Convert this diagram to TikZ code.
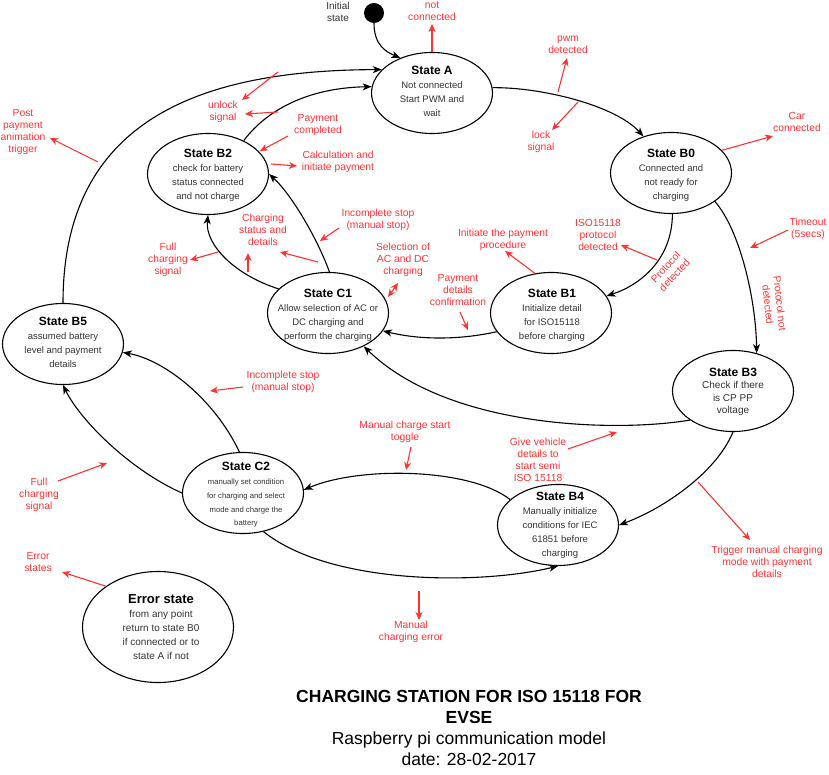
\documentclass[tikz,border=0pt]{standalone}
\usepackage{fontspec}
\setmainfont{Liberation Sans}
\usetikzlibrary{shapes.geometric,arrows.meta}
\definecolor{labred}{HTML}{FF3333}
\definecolor{bodyc}{HTML}{333333}
\newcommand\sttl[1]{{\fontsize{12}{14}\selectfont\bfseries\color{black}#1}}
\begin{document}
\begin{tikzpicture}[x=1pt,y=-1pt,
  st/.style={draw, ellipse, line width=1.1pt, minimum width=121pt, minimum height=81pt, inner sep=0pt},
  stt/.style={align=center, text=bodyc, inner sep=0pt, font=\fontsize{9.5}{14}\selectfont},
  lab/.style={align=center, text=labred, inner sep=0pt, font=\fontsize{10.3}{12}\selectfont},
  tr/.style={draw, line width=1.1pt, -{Stealth[length=9pt,width=7pt,inset=2.5pt]}},
  rarr/.style={draw=labred, line width=1.1pt, -{Stealth[length=8pt,width=7pt,inset=2.5pt]}},
  rdbl/.style={draw=labred, line width=1.1pt, {Stealth[length=8pt,width=7pt,inset=2.5pt]}-{Stealth[length=8pt,width=7pt,inset=2.5pt]}}
]
\useasboundingbox (0,0) rectangle (829,775);
\fill[white] (0,0) rectangle (829,775);

% ---------- states ----------
\node[fill, circle, minimum size=20pt, inner sep=0pt] (init) at (374,13) {};
\node[align=center, text=bodyc, inner sep=0pt, font=\fontsize{10}{12}\selectfont] (initt) at (338,12) {Initial\\state};

\node[st] (A) at (432,93) {};
\node[stt] (At) at (432,91) {\sttl{State A}\\Not connected\\Start PWM and\\wait};

\node[st] (B0) at (671,173) {};
\node[stt] (B0t) at (671,175) {\sttl{State B0}\\Connected and\\not ready for\\charging};

\node[st] (B2) at (208,174) {};
\node[stt] (B2t) at (208,175) {\sttl{State B2}\\check for battery\\status connected\\and not charge};

\node[st] (C1) at (328,313) {};
\node[stt] (C1t) at (328,315) {\sttl{State C1}\\Allow selection of AC or\\DC charging and\\perform the charging};

\node[st] (B1) at (551,313) {};
\node[stt] (B1t) at (552,315) {\sttl{State B1}\\Initialize detail\\for ISO15118\\before charging};

\node[st] (B3) at (733,391) {};
\node[stt, font=\fontsize{10}{12.5}\selectfont] (B3t) at (733,392) {\sttl{State B3}\\Check if there\\is CP PP\\voltage};

\node[st] (B5) at (63,344) {};
\node[stt] (B5t) at (63,342) {\sttl{State B5}\\assumed battery\\level and payment\\details};

\node[st] (C2) at (243,493) {};
\node[stt, font=\fontsize{7.7}{13.7}\selectfont] (C2t) at (246,495) {\sttl{State C2}\\manually set condition\\for charging and select\\mode and charge the\\battery};

\node[st] (B4) at (558,525) {};
\node[stt] (B4t) at (560,525) {\sttl{State B4}\\Manually initialize\\conditions for IEC\\61851 before\\charging};

\node[st, minimum width=151pt, minimum height=111pt] (Err) at (158,627) {};
\node[stt, font=\fontsize{10}{14}\selectfont] (Errt) at (161,627) {{\fontsize{13}{14}\selectfont\bfseries\color{black}Error state}\\from any point\\return to state B0\\if connected or to\\state A if not};

% ---------- transitions ----------
\draw[tr] (init) .. controls (374,45) and (386,52) .. (A.132);
\draw[tr] (B2.43) .. controls (262,116) and (300,88) .. (A.174);
\draw[tr] (B5.90) .. controls (63,120) and (200,70) .. (A.155);
\draw[tr] (A.5) .. controls (540,87) and (615,105) .. (B0.127);
\draw[tr] (B0.272) .. controls (672,260) and (640,285) .. (B1.17);
\draw[tr] (B0.327) .. controls (740,230) and (756,300) .. (B3.58);
\draw[tr] (C1.88) .. controls (318,240) and (292,195) .. (B2.0);
\draw[tr] (C1.154) .. controls (235,275) and (205,245) .. (B2.270);
\draw[tr] (B1.199) .. controls (460,340) and (420,340) .. (C1.342);
\draw[tr] (B3.214) .. controls (620,432) and (450,430) .. (C1.317);
\draw[tr] (B3.270) .. controls (715,475) and (660,510) .. (B4.0);
\draw[tr] (B4.152) .. controls (470,468) and (360,466) .. (C2.3);
\draw[tr] (C2.298) .. controls (330,585) and (480,585) .. (B4.270);
\draw[tr] (C2.95) .. controls (215,400) and (165,360) .. (B5.352);
\draw[tr] (C2.180) .. controls (130,470) and (80,420) .. (B5.270);

% ---------- red labels ----------
\node[lab] (lnc) at (432,11) {not\\connected};
\node[lab] (lpwm) at (568,45) {pwm\\detected};
\node[lab] (llock) at (541,142) {lock\\signal};
\node[lab] (lcar) at (797,122) {Car\\connected};
\node[lab] (liso) at (598,235) {ISO15118\\protocol\\detected};
\node[lab, rotate=47] (lpd) at (670,271) {Protocol\\detected};
\node[lab] (ltime) at (808,229) {Timeout\\(5secs)};
\node[lab, rotate=-84] (lpnd) at (774,304) {Protocol not\\detected};
\node[lab] (linit) at (503,240) {Initiate the payment\\procedure};
\node[lab] (lpdc) at (458,290) {Payment\\details\\confirmation};
\node[lab] (lsel) at (403,260) {Selection of\\AC and DC\\charging};
\node[lab] (linc1) at (378,220) {Incomplete stop\\(manual stop)};
\node[lab] (lchs) at (263,230) {Charging\\status and\\details};
\node[lab] (lfull1) at (168,260) {Full\\charging\\signal};
\node[lab] (lpc) at (318,125) {Payment\\completed};
\node[lab] (lcalc) at (338,162) {Calculation and\\initiate payment};
\node[lab] (lunl) at (223,112) {unlock\\signal};
\node[lab] (lpost) at (23,132) {Post\\payment\\animation\\trigger};
\node[lab] (linc2) at (283,382) {Incomplete stop\\(manual stop)};
\node[lab] (lfull2) at (39,495) {Full\\charging\\signal};
\node[lab] (lman) at (405,432) {Manual charge start\\toggle};
\node[lab] (lgive) at (538,460) {Give vehicle\\details to\\start semi\\ISO 15118};
\node[lab] (ltrig) at (767,562) {Trigger manual charging\\mode with payment\\details};
\node[lab] (lmerr) at (411,632) {Manual\\charging error};
\node[lab] (lerr) at (38,562) {Error\\states};

% ---------- red pointer arrows ----------
\coordinate (pncE) at (432,24);
\coordinate (ppwmS) at (558,92);   \coordinate (ppwmE) at (567,58);
\coordinate (plockS) at (578,102); \coordinate (plockE) at (552,130);
\coordinate (pcarE) at (773,136);
\coordinate (pisoS) at (657,260);  \coordinate (pisoE) at (621,245);
\coordinate (ptimS) at (788,230);  \coordinate (ptimE) at (750,248);
\coordinate (pinitE) at (505,251);
\coordinate (ppdcS) at (460,312);  \coordinate (ppdcE) at (468,330);
\coordinate (pselS) at (388,297);  \coordinate (pselE) at (398,283);
\coordinate (pinc1S) at (339,228); \coordinate (pinc1E) at (320,241);
\coordinate (pch1S) at (248,272);  \coordinate (pch1E) at (248,253);
\coordinate (pch2S) at (318,262);  \coordinate (pch2E) at (280,252);
\coordinate (pful1S) at (218,252); \coordinate (pful1E) at (190,260);
\coordinate (ppcS) at (288,136);   \coordinate (ppcE) at (260,151);
\coordinate (pcalS) at (271,164);  \coordinate (pcalE) at (297,166);
\coordinate (pun1S) at (278,72);   \coordinate (pun1E) at (242,100);
\coordinate (pun2S) at (278,112);  \coordinate (pun2E) at (245,114);
\coordinate (ppostS) at (98,162);  \coordinate (ppostE) at (50,138);
\coordinate (pinc2S) at (243,387); \coordinate (pinc2E) at (210,391);
\coordinate (pful2S) at (58,481);  \coordinate (pful2E) at (107,463);
\coordinate (pmanS) at (411,447);  \coordinate (pmanE) at (406,470);
\coordinate (pgivS) at (568,449);  \coordinate (pgivE) at (617,432);
\coordinate (ptrgS) at (698,482);  \coordinate (ptrgE) at (750,540);
\coordinate (pmerS) at (419,591);  \coordinate (pmerE) at (419,620);
\coordinate (perrE) at (62,572);

\draw[rarr] (A.north) -- (pncE);
\draw[rarr] (ppwmS) -- (ppwmE);
\draw[rarr] (plockS) -- (plockE);
\draw[rarr] (B0.24) -- (pcarE);
\draw[rarr] (pisoS) -- (pisoE);
\draw[rarr] (ptimS) -- (ptimE);
\draw[rarr] (B1.112) -- (pinitE);
\draw[rarr] (ppdcS) -- (ppdcE);
\draw[rdbl] (pselS) -- (pselE);
\draw[rarr] (pinc1S) -- (pinc1E);
\draw[rarr] (pch1S) -- (pch1E);
\draw[rarr] (pch2S) -- (pch2E);
\draw[rarr] (pful1S) -- (pful1E);
\draw[rarr] (ppcS) -- (ppcE);
\draw[rarr] (pcalS) -- (pcalE);
\draw[rarr] (pun1S) -- (pun1E);
\draw[rarr] (pun2S) -- (pun2E);
\draw[rarr] (ppostS) -- (ppostE);
\draw[rarr] (pinc2S) -- (pinc2E);
\draw[rarr] (pful2S) -- (pful2E);
\draw[rarr] (pmanS) -- (pmanE);
\draw[rarr] (pgivS) -- (pgivE);
\draw[rarr] (ptrgS) -- (ptrgE);
\draw[rarr] (pmerS) -- (pmerE);
\draw[rarr] (Err.142) -- (perrE);

% ---------- title ----------
\node[align=center, inner sep=0pt, font=\fontsize{17.5}{21}\selectfont] (title) at (469,728)
  {\textbf{CHARGING STATION FOR ISO 15118 FOR}\\\textbf{EVSE}\\Raspberry pi communication model\\date: 28-02-2017};
\end{tikzpicture}
\end{document}
